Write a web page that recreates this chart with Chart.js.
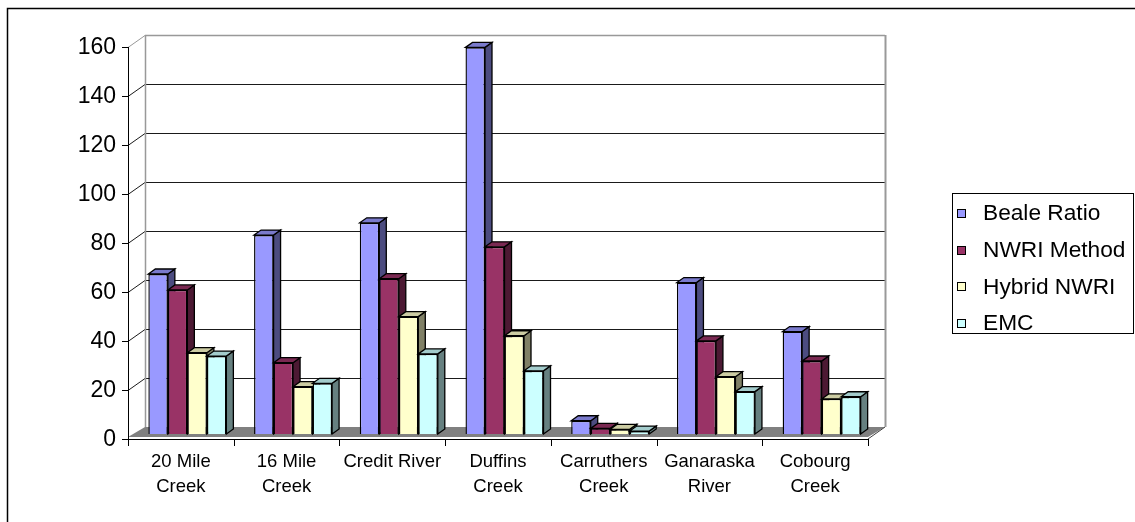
<!DOCTYPE html>
<html>
<head>
<meta charset="utf-8">
<script src="https://cdn.jsdelivr.net/npm/chart.js@4/dist/chart.umd.min.js"></script>
<style>
  html, body { margin: 0; padding: 0; background: #ffffff; }
  #wrap { width: 1135px; height: 522px; }
</style>
</head>
<body>
<div id="wrap"><canvas id="c" width="1135" height="522"></canvas></div>
<script>
// Sampling sites (label lines)
const categories = [
  ['20 Mile', 'Creek'],
  ['16 Mile', 'Creek'],
  ['Credit River'],
  ['Duffins', 'Creek'],
  ['Carruthers', 'Creek'],
  ['Ganaraska', 'River'],
  ['Cobourg', 'Creek']
];

// Load estimates by method
const seriesNames = ['Beale Ratio', 'NWRI Method', 'Hybrid NWRI', 'EMC'];
const bealeRatio = [65.3, 81.2, 86.2, 157.8, 5.4, 61.8, 41.8];
const nwriMethod = [58.8, 29.1, 63.4, 76.4, 2.3, 38.0, 29.8];
const hybridNwri = [33.2, 19.3, 47.9, 40.1, 1.9, 23.4, 14.3];
const emc        = [31.8, 20.7, 32.7, 25.8, 1.2, 17.3, 15.2];

const yTicks = [0, 20, 40, 60, 80, 100, 120, 140, 160];

// Face colours: front, top, side
const frontColors = ['#9999FF', '#993366', '#FFFFCC', '#CCFFFF'];
const topColors   = ['#7A7ACC', '#7A2952', '#CCCCA3', '#A3CCCC'];
const sideColors  = ['#4C4C80', '#4C1933', '#808066', '#668080'];

const FONT = '"Liberation Sans", Arial, Helvetica, sans-serif';
const WALL = { dx: 17, dy: -12 };     // front plane -> back wall
const ROW = { dx: 6.5, dy: -5 };      // front plane -> bar row
const BAR_DEPTH = { dx: 7, dy: -5 };  // thickness of each column

const seriesValues = [bealeRatio, nwriMethod, hybridNwri, emc];

const px = v => Math.round(v) + 0.5;

function poly(ctx, pts, fill, stroke, lw) {
  ctx.beginPath();
  ctx.moveTo(pts[0][0], pts[0][1]);
  for (let i = 1; i < pts.length; i++) ctx.lineTo(pts[i][0], pts[i][1]);
  ctx.closePath();
  if (fill) { ctx.fillStyle = fill; ctx.fill(); }
  if (stroke) { ctx.strokeStyle = stroke; ctx.lineWidth = lw || 1; ctx.stroke(); }
}

function line(ctx, x1, y1, x2, y2, color, lw) {
  ctx.beginPath();
  ctx.moveTo(x1, y1);
  ctx.lineTo(x2, y2);
  ctx.strokeStyle = color;
  ctx.lineWidth = lw || 1;
  ctx.stroke();
}

const columns3d = {
  id: 'columns3d',
  beforeDraw(chart) {
    const ctx = chart.ctx;
    ctx.save();
    ctx.fillStyle = '#ffffff';
    ctx.fillRect(0, 0, chart.width, chart.height);
    ctx.restore();
  },
  beforeDatasetsDraw(chart) {
    const ctx = chart.ctx;
    const xs = chart.scales.x, ys = chart.scales.y;
    const L = chart.chartArea.left, R = chart.chartArea.right;
    const y0 = ys.getPixelForValue(0);
    const yMax = ys.getPixelForValue(yTicks[yTicks.length - 1]);
    ctx.save();

    // floor
    poly(ctx, [[L, y0 - 2], [R, y0 - 2], [R + WALL.dx, y0 + WALL.dy], [L + WALL.dx, y0 + WALL.dy]], '#808080');
    line(ctx, R, y0, R + WALL.dx, y0 + WALL.dy, '#404040', 1);

    // back wall gridlines and side-wall diagonals
    yTicks.forEach(v => {
      if (v === 0) return;
      const p = Math.round(ys.getPixelForValue(v));
      const top = v === yTicks[yTicks.length - 1];
      const col = top ? '#999999' : '#1a1a1a';
      line(ctx, L + WALL.dx, p + WALL.dy + 0.5, R + WALL.dx, p + WALL.dy + 0.5, col, top ? 1.5 : 1);
      line(ctx, L, p + 0.5, L + WALL.dx, p + WALL.dy + 0.5, top ? '#999999' : '#1a1a1a', 1);
    });
    // wall edges
    line(ctx, L + WALL.dx + 0.5, yMax + WALL.dy, L + WALL.dx + 0.5, y0 + WALL.dy, '#999999', 1.5);
    line(ctx, R + WALL.dx + 0.5, yMax + WALL.dy, R + WALL.dx + 0.5, y0 + WALL.dy, '#999999', 2);

    // value axis
    line(ctx, px(L), yMax, px(L), y0 + 7, '#000000', 1);
    ctx.font = '23px ' + FONT;
    ctx.fillStyle = '#000000';
    ctx.textAlign = 'right';
    ctx.textBaseline = 'middle';
    yTicks.forEach(v => {
      const p = Math.round(ys.getPixelForValue(v)) + 0.5;
      line(ctx, L - 6, p, L, p, '#000000', 1);
      ctx.fillText(String(v), L - 12, p);
    });

    // category axis
    line(ctx, L, px(y0), R, px(y0), '#000000', 1);
    const half = (xs.getPixelForValue(1) - xs.getPixelForValue(0)) / 2;
    for (let i = 0; i <= categories.length; i++) {
      const bx = px(xs.getPixelForValue(0) - half + i * 2 * half);
      line(ctx, bx, y0, bx, y0 + 7, '#000000', 1);
    }
    ctx.font = '18.5px ' + FONT;
    ctx.textAlign = 'center';
    ctx.textBaseline = 'middle';
    categories.forEach((lines, i) => {
      const cx = xs.getPixelForValue(i);
      lines.forEach((t, k) => ctx.fillText(t, cx, y0 + 23 + k * 25));
    });

    // columns, left to right so each front face hides its neighbour's side
    ctx.translate(ROW.dx, ROW.dy);
    ctx.lineJoin = 'miter';
    for (let i = 0; i < categories.length; i++) {
      for (let d = 0; d < seriesValues.length; d++) {
        const el = chart.getDatasetMeta(d).data[i];
        const l = el.x - el.width / 2, r = el.x + el.width / 2;
        const t = el.y, b = el.base;
        poly(ctx, [[r, t], [r + BAR_DEPTH.dx, t + BAR_DEPTH.dy], [r + BAR_DEPTH.dx, b + BAR_DEPTH.dy], [r, b]],
          sideColors[d], '#000000', 1.3);
        poly(ctx, [[l, t], [l + BAR_DEPTH.dx, t + BAR_DEPTH.dy], [r + BAR_DEPTH.dx, t + BAR_DEPTH.dy], [r, t]],
          topColors[d], '#000000', 1.3);
        el.draw(ctx);
      }
    }
    ctx.restore();
    return false;
  },
  afterDraw(chart) {
    const ctx = chart.ctx;
    ctx.save();
    // legend
    ctx.strokeStyle = '#000000';
    ctx.lineWidth = 1;
    ctx.strokeRect(952.5, 193.5, 181, 140);
    ctx.font = '22.7px ' + FONT;
    ctx.textAlign = 'left';
    ctx.textBaseline = 'middle';
    chart.data.datasets.forEach((ds, i) => {
      const cy = 213 + i * 36.7;
      ctx.fillStyle = ds.backgroundColor;
      ctx.fillRect(957, Math.round(cy) - 4, 9, 9);
      ctx.strokeRect(957.5, Math.round(cy) - 3.5, 8, 8);
      ctx.fillStyle = '#000000';
      ctx.fillText(ds.label, 983, cy + 1);
    });
    // chart border
    ctx.lineWidth = 1.5;
    ctx.strokeRect(7.5, 8.5, 1140, 530);
    ctx.restore();
  }
};

new Chart(document.getElementById('c'), {
  type: 'bar',
  data: {
    labels: categories,
    datasets: seriesNames.map((name, i) => ({
      label: name,
      data: seriesValues[i],
      backgroundColor: frontColors[i],
      borderColor: '#000000',
      borderWidth: 1.4,
      categoryPercentage: 0.738,
      barPercentage: 1.0
    }))
  },
  options: {
    responsive: false,
    animation: false,
    devicePixelRatio: 1,
    layout: { padding: { left: 128, right: 267, top: 47, bottom: 83 } },
    scales: {
      x: { display: false, offset: true },
      y: { display: false, min: 0, max: 160 }
    },
    plugins: {
      legend: { display: false },
      tooltip: { enabled: false }
    }
  },
  plugins: [columns3d]
});
</script>
</body>
</html>
